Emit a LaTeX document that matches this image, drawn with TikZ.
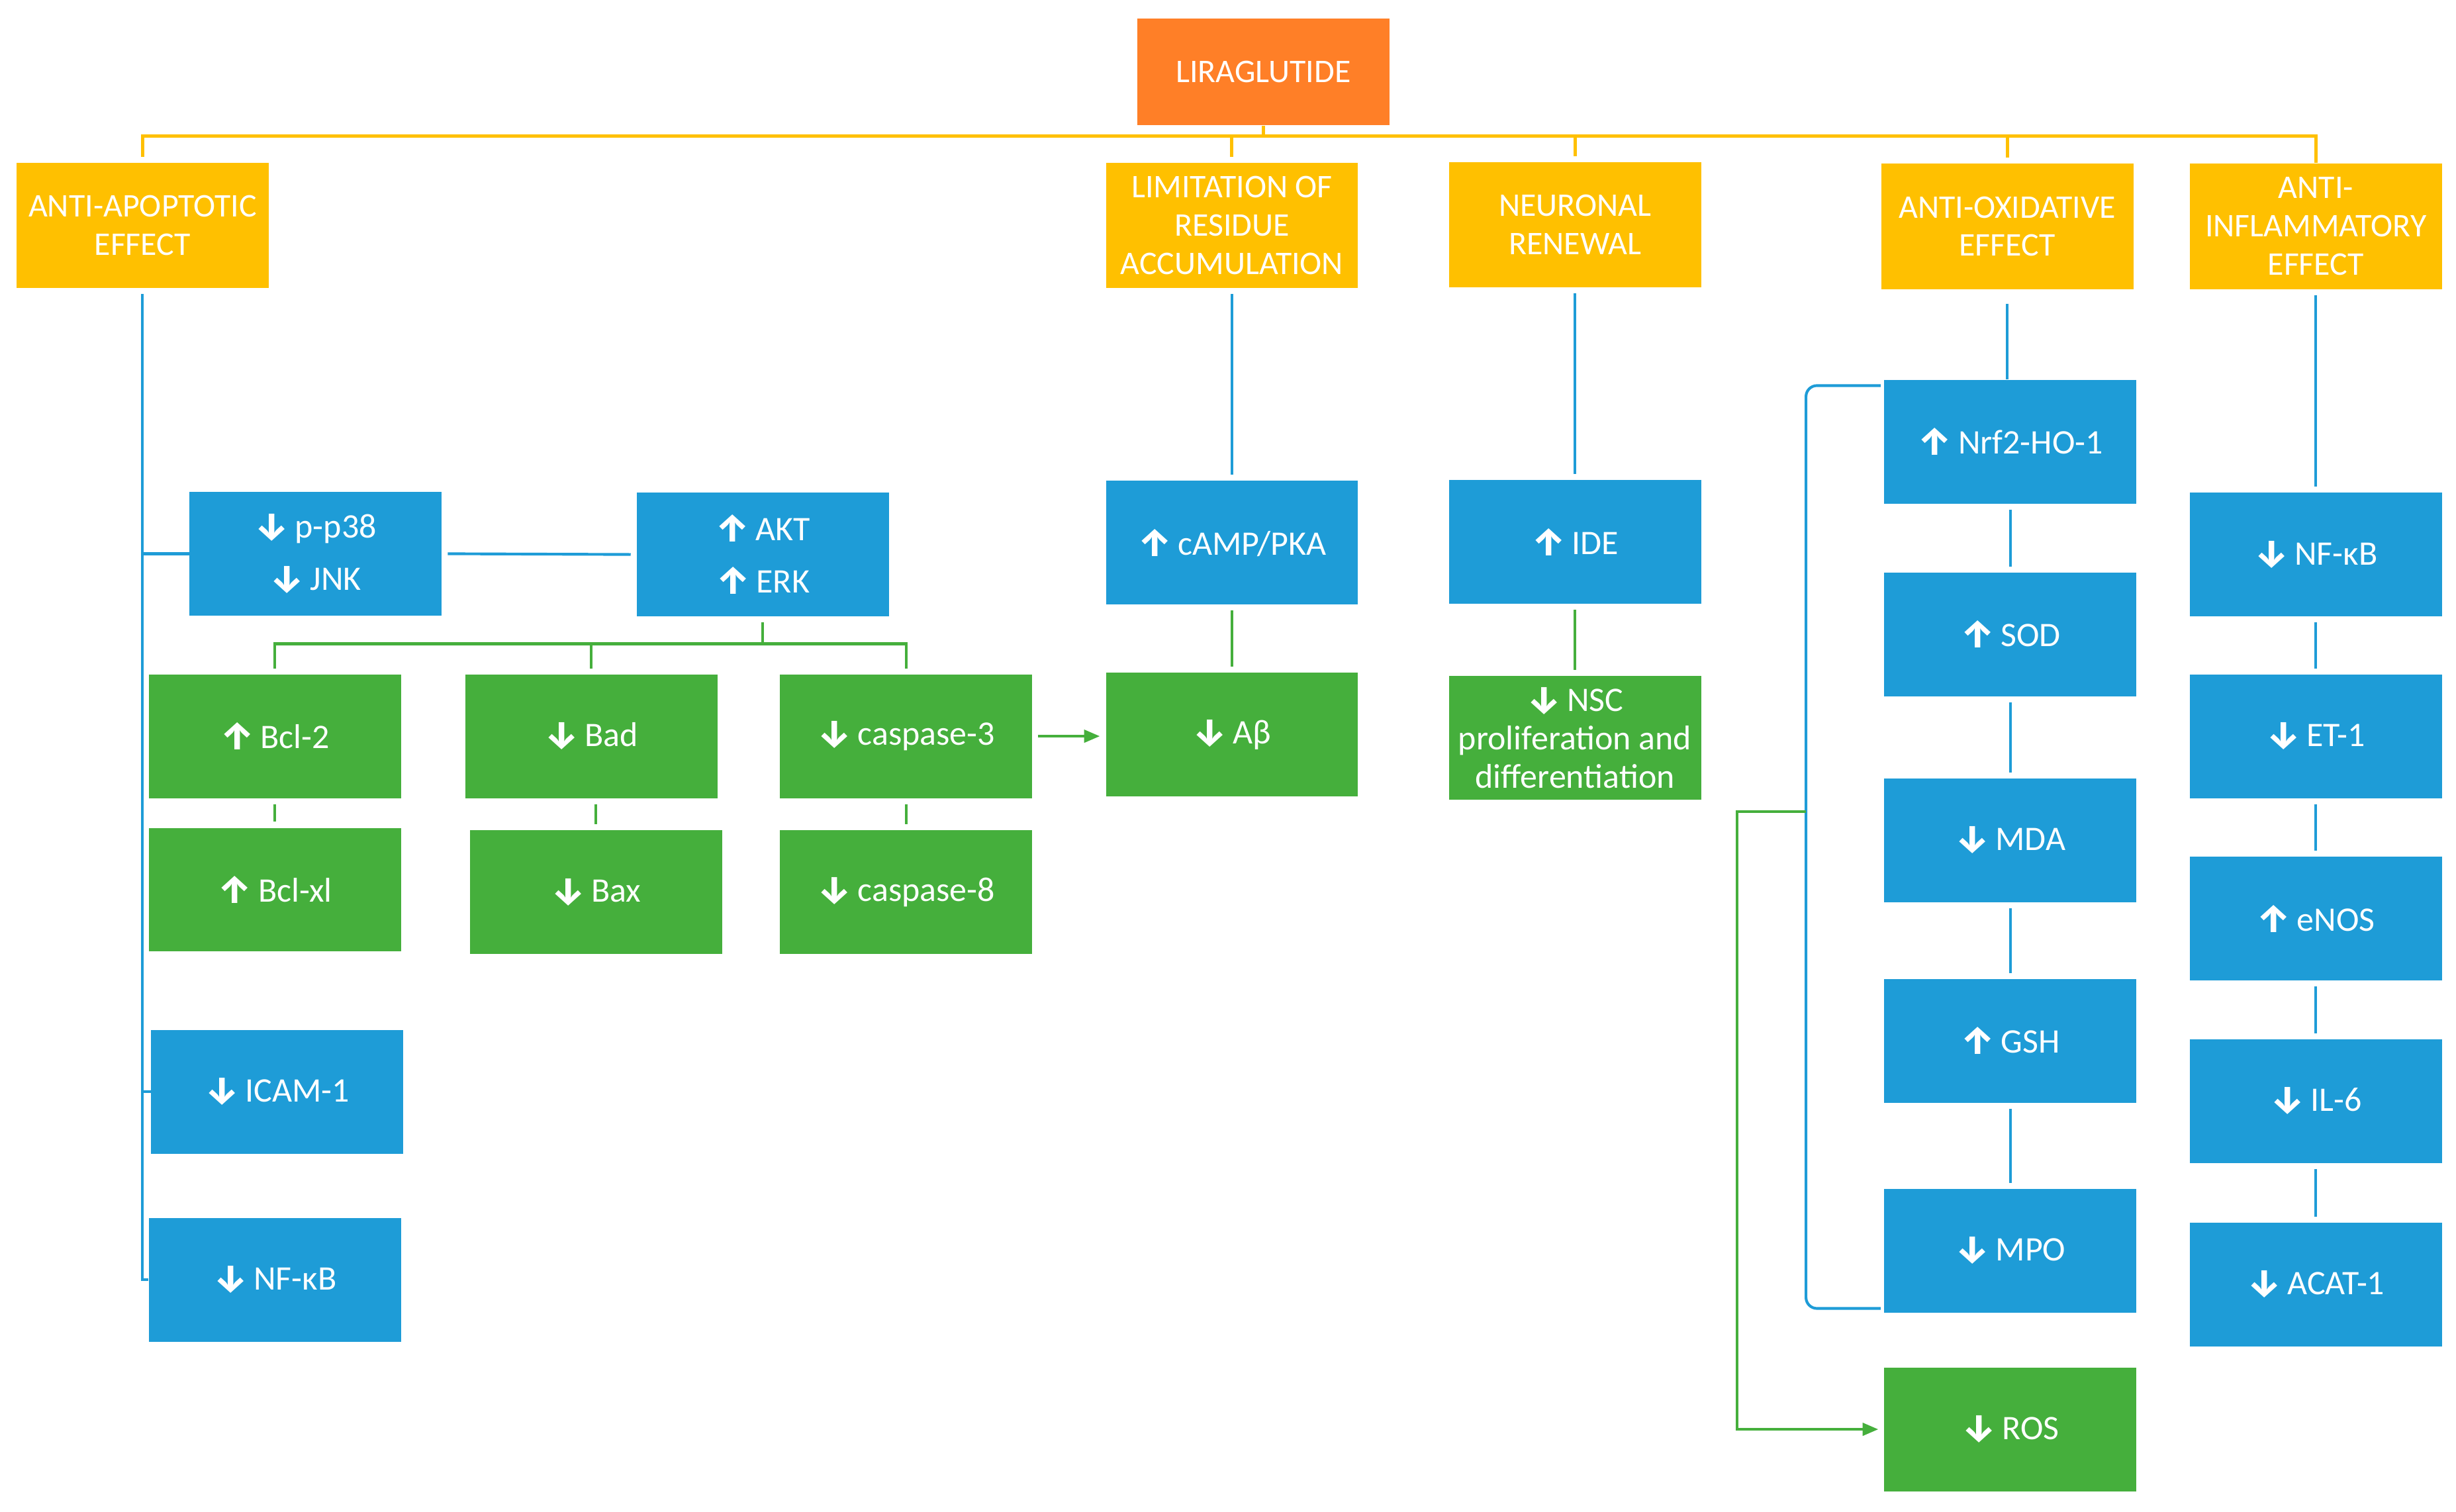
\documentclass[tikz,border=0pt]{standalone}
\usepackage{fontspec}
\setmainfont{Carlito}
\newfontfamily\arrfont{Fira Sans}
\usetikzlibrary{arrows.meta}
\definecolor{cblue}{RGB}{30,156,215}
\definecolor{cgreen}{RGB}{69,175,60}
\definecolor{cyellow}{RGB}{255,192,0}
\definecolor{corange}{RGB}{255,127,39}
\newcommand{\uar}{\raisebox{-0.5pt}{\arrfont\bfseries\fontsize{14}{14}\selectfont ↑}\,}
\newcommand{\dar}{\raisebox{-0.5pt}{\arrfont\bfseries\fontsize{14}{14}\selectfont ↓}\,}
\begin{document}
\begin{tikzpicture}[x=0.02cm,y=-0.02cm,
  box/.style={rectangle, inner sep=0pt, align=center, text=white,
    minimum width=3.22cm, minimum height=1.58cm,
    font=\fontsize{12.5}{14}\selectfont},
  hdr/.style={box, fill=cyellow, minimum height=1.6cm, font=\fontsize{12}{13.9}\selectfont},
  bbox/.style={box, fill=cblue},
  gbox/.style={box, fill=cgreen},
  ln/.style={line width=1pt, shorten <=0.07cm, shorten >=0.07cm},
  bl/.style={ln, draw=cblue},
  gr/.style={ln, draw=cgreen},
  yl/.style={line width=1.2pt, draw=cyellow, shorten <=0.07cm},
  tip/.style={-{Triangle[length=0.2cm,width=0.16cm]}}
]
\useasboundingbox (0,0) rectangle (1568,965);

% header row
\node[box, fill=corange, minimum height=1.36cm, font=\fontsize{12}{14}\selectfont] (lira) at (806.5,46) {LIRAGLUTIDE};
\node[hdr] (apo)  at (91,144)     {ANTI-APOPTOTIC\\EFFECT};
\node[hdr] (lim)  at (786.5,144)  {LIMITATION OF\\RESIDUE\\ACCUMULATION};
\node[hdr] (neur) at (1005.5,143.5) {NEURONAL\\RENEWAL};
\node[hdr] (ox)   at (1281.5,144.5) {ANTI-OXIDATIVE\\EFFECT};
\node[hdr] (infl) at (1478.5,144.5) {ANTI-\\INFLAMMATORY\\EFFECT};

% anti-apoptotic branch
\node[bbox] (p38) at (201.5,353.5) {\dar p-p38\\[5pt]\dar JNK};
\node[bbox] (akt) at (487,354) {\uar AKT\\[5pt]\uar ERK};
\node[gbox] (bcl2)  at (175.5,470) {\uar Bcl-2};
\node[gbox] (bad)   at (377.5,470) {\dar Bad};
\node[gbox] (casp3) at (578.5,470) {\dar caspase-3};
\node[gbox] (bclxl) at (175.5,568) {\uar Bcl-xl};
\node[gbox] (bax)   at (380.5,569.5) {\dar Bax};
\node[gbox] (casp8) at (578.5,569.5) {\dar caspase-8};
\node[bbox] (icam) at (177,697) {\dar ICAM-1};
\node[bbox] (nfk1) at (175.5,817) {\dar NF-κB};

% residue / neuronal
\node[bbox] (camp)  at (786.5,346.5) {\uar cAMP/PKA};
\node[gbox] (abeta) at (786.5,469) {\dar Aβ};
\node[bbox] (ide)   at (1005.5,346) {\uar IDE};
\node[gbox] (nsc)   at (1005.5,471) {\dar NSC\\proliferation and\\differentiation};

% anti-oxidative
\node[bbox] (nrf) at (1283.5,282) {\uar Nrf2-HO-1};
\node[bbox] (sod) at (1283.5,405) {\uar SOD};
\node[bbox] (mda) at (1283.5,536.5) {\dar MDA};
\node[bbox] (gsh) at (1283.5,664.5) {\uar GSH};
\node[bbox] (mpo) at (1283.5,798.5) {\dar MPO};
\node[gbox] (ros) at (1283.5,912.5) {\dar ROS};

% anti-inflammatory
\node[bbox] (nfk2) at (1478.5,354) {\dar NF-κB};
\node[bbox] (et1)  at (1478.5,470) {\dar ET-1};
\node[bbox] (enos) at (1478.5,586.5) {\uar eNOS};
\node[bbox] (il6)  at (1478.5,703) {\dar IL-6};
\node[bbox] (acat) at (1478.5,820) {\dar ACAT-1};

% helper coordinates
\coordinate (bus) at (0,87);
\coordinate (gbus) at (0,411);
\coordinate (brk) at (1153,518);
\coordinate (gl) at (1109,518);

% yellow tree
\draw[yl] (apo.north) -- (apo.north |- bus) -| (infl.north);
\draw[yl, shorten <=0pt] (lira.south) -- (lira.south |- bus);
\draw[yl] (lim.north) -- (lim.north |- bus);
\draw[yl] (neur.north) -- (neur.north |- bus);
\draw[yl] (ox.north) -- (ox.north |- bus);

% anti-apoptotic connectors
\draw[bl, shorten >=0pt] (apo.south) -- (apo.south |- nfk1.west) -- (nfk1.west);
\draw[bl, shorten <=0pt, shorten >=0pt] (apo.south |- p38.west) -- (p38.west);
\draw[bl, shorten <=0pt, shorten >=0pt] (apo.south |- icam.west) -- (icam.west);
\draw[bl] (p38.east) -- (akt.west);
\draw[gr, shorten >=0pt] (akt.south) -- (akt.south |- gbus);
\draw[gr] (bcl2.north) -- (bcl2.north |- gbus) -- (casp3.north |- gbus) -- (casp3.north);
\draw[gr, shorten <=0pt] (bad.north |- gbus) -- (bad.north);
\draw[gr] (bcl2.south) -- (bclxl.north);
\draw[gr] (bax.north |- bad.south) -- (bax.north);
\draw[gr] (casp3.south) -- (casp8.north);
\draw[gr, tip] (casp3.east) -- (casp3.east -| abeta.west);

% residue / neuronal connectors
\draw[bl] (lim.south) -- (camp.north);
\draw[gr] (camp.south) -- (abeta.north);
\draw[bl] (neur.south) -- (ide.north);
\draw[gr] (ide.south) -- (nsc.north);

% anti-oxidative connectors
\draw[bl, shorten <=0.18cm, shorten >=0pt] (ox.south) -- (ox.south |- nrf.north);
\draw[bl] (nrf.south) -- (sod.north);
\draw[bl] (sod.south) -- (mda.north);
\draw[bl] (mda.south) -- (gsh.north);
\draw[bl] (gsh.south) -- (mpo.north);
\draw[bl, rounded corners=4pt, shorten <=0pt, shorten >=0pt]
  ([xshift=-0.04cm, yshift=-0.08cm]nrf.north west) -| (brk) |- ([xshift=-0.04cm, yshift=0.06cm]mpo.south west);
\draw[gr, tip, shorten <=0pt] (brk) -- (gl) |- (ros.west);

% anti-inflammatory connectors
\draw[bl] (infl.south) -- (nfk2.north);
\draw[bl] (nfk2.south) -- (et1.north);
\draw[bl] (et1.south) -- (enos.north);
\draw[bl] (enos.south) -- (il6.north);
\draw[bl] (il6.south) -- (acat.north);
\end{tikzpicture}
\end{document}
